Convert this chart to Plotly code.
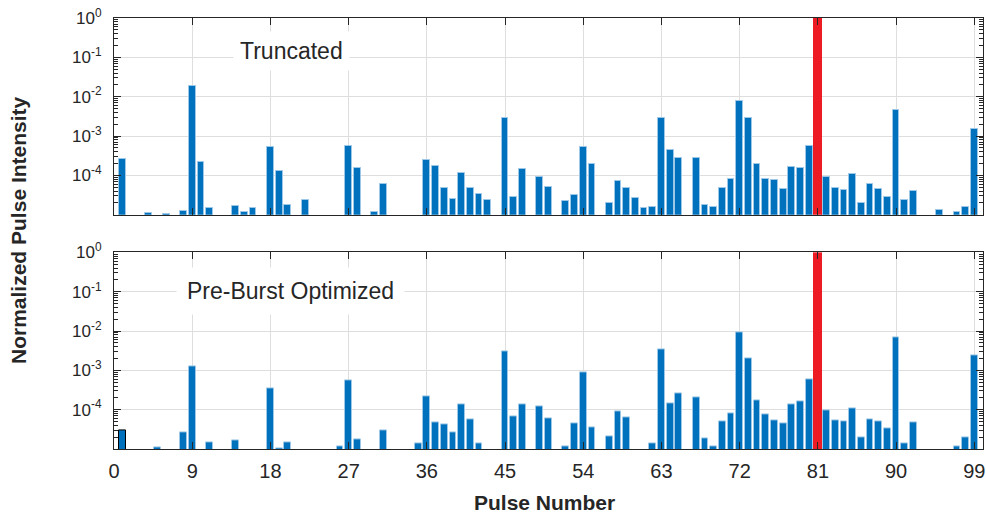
import plotly.graph_objects as go

pulses = list(range(1, 100))

truncated = [
    2.6e-4, 0, 0, 1.1e-5, 0, 1.05e-5, 0, 1.26e-5, 1.9e-2, 2.2e-4,
    1.47e-5, 0, 0, 1.65e-5, 1.17e-5, 1.47e-5, 0, 5.4e-4, 1.28e-4, 1.73e-5,
    0, 2.4e-5, 0, 0, 0, 0, 5.7e-4, 1.56e-4, 0, 1.2e-5,
    6.2e-5, 0, 0, 0, 0, 2.5e-4, 1.7e-4, 4.8e-5, 2.5e-5, 1.12e-4,
    4.7e-5, 3.3e-5, 2.3e-5, 0, 2.8e-3, 2.9e-5, 1.44e-4, 0, 9.3e-5, 5.2e-5,
    0, 2.2e-5, 3.1e-5, 5.4e-4, 1.9e-4, 0, 2.0e-5, 7.0e-5, 4.7e-5, 2.6e-5,
    1.5e-5, 1.6e-5, 2.8e-3, 4.5e-4, 2.8e-4, 0, 2.8e-4, 1.8e-5, 1.6e-5, 4.8e-5,
    8.3e-5, 7.8e-3, 2.9e-3, 1.9e-4, 8.3e-5, 7.7e-5, 4.6e-5, 1.65e-4, 1.5e-4, 5.6e-4,
    1.0, 8.9e-5, 4.7e-5, 4.3e-5, 1.1e-4, 1.95e-5, 5.9e-5, 4.4e-5, 2.9e-5, 4.5e-3,
    2.4e-5, 4.0e-5, 0, 0, 1.3e-5, 0, 1.2e-5, 1.55e-5, 1.55e-3,
]

optimized = [
    2.9e-5, 0, 0, 0, 1.08e-5, 0, 0, 2.6e-5, 1.26e-3, 0,
    1.45e-5, 0, 0, 1.66e-5, 0, 0, 0, 3.5e-4, 1.05e-5, 1.45e-5,
    0, 0, 0, 0, 0, 1.17e-5, 5.5e-4, 1.73e-5, 0, 0,
    2.9e-5, 0, 0, 0, 1.42e-5, 2.2e-4, 4.7e-5, 4.3e-5, 2.6e-5, 1.38e-4,
    5.8e-5, 1.38e-5, 0, 0, 3.0e-3, 6.6e-5, 1.38e-4, 0, 1.2e-4, 5.9e-5,
    0, 1.15e-5, 4.4e-5, 8.7e-4, 3.5e-5, 0, 2.1e-5, 8.9e-5, 6.3e-5, 0,
    0, 1.42e-5, 3.4e-3, 1.48e-4, 2.6e-4, 0, 2.1e-4, 1.9e-5, 1.15e-5, 5.1e-5,
    7.9e-5, 9.4e-3, 2.0e-3, 1.73e-4, 7.7e-5, 5.3e-5, 4.5e-5, 1.38e-4, 1.66e-4, 5.9e-4,
    1.0, 9.8e-5, 5.4e-5, 4.9e-5, 1.07e-4, 2.0e-5, 5.8e-5, 4.9e-5, 3.4e-5, 7.0e-3,
    1.38e-5, 4.7e-5, 0, 0, 0, 0, 1.15e-5, 1.95e-5, 2.45e-3,
]

highlight_pulse = 81
x_tickvals = [0, 9, 18, 27, 36, 45, 54, 63, 72, 81, 90, 99]
y_tickvals = [1e-4, 1e-3, 1e-2, 1e-1, 1e0]
y_ticktext = ["10<sup>-4</sup>", "10<sup>-3</sup>", "10<sup>-2</sup>", "10<sup>-1</sup>", "10<sup>0</sup>"]
panel_labels = ["Truncated", "Pre-Burst Optimized"]
x_title = "Pulse Number"
y_title = "Normalized Pulse Intensity"

BLUE = "#0072BD"
RED = "#ED1C24"
EDGE = "#9CC7E6"
INK = "#262626"
GRID = "#DEDEDE"
FONT = "Liberation Sans, Arial, sans-serif"

minor_vals = [m * 10.0 ** e for e in range(-5, 0) for m in range(2, 10)]

fig = go.Figure()

for i, vals in enumerate([truncated, optimized]):
    colors = [RED if p == highlight_pulse else BLUE for p in pulses]
    edges = [RED if p == highlight_pulse else EDGE for p in pulses]
    widths = [0.95 if p == highlight_pulse else 0.78 for p in pulses]
    if i == 1:
        edges[0] = "#000000"
    suffix = "" if i == 0 else "2"
    fig.add_trace(go.Bar(
        x=pulses, y=vals, width=widths,
        marker=dict(color=colors, line=dict(color=edges, width=1)),
        xaxis="x" + suffix, yaxis="y" + suffix, showlegend=False,
    ))

axis_common = dict(
    showline=True, linecolor=INK, linewidth=1, mirror="ticks",
    ticks="inside", tickcolor=INK, zeroline=False, automargin=False,
    showgrid=True, gridcolor=GRID, gridwidth=1,
)

xcommon = dict(axis_common, range=[0, 100], tickvals=x_tickvals, ticklen=7,
               tickfont=dict(family=FONT, size=20, color=INK))
ycommon = dict(axis_common, type="log", range=[-5, 0], tickvals=y_tickvals, ticktext=y_ticktext,
               ticklen=7, ticklabelstandoff=8, tickfont=dict(family=FONT, size=17, color=INK),
               minor=dict(ticks="inside", ticklen=4, tickcolor=INK, tickvals=minor_vals, showgrid=False))

fig.update_layout(
    width=986, height=514,
    margin=dict(l=114, r=3, t=18, b=65),
    paper_bgcolor="white", plot_bgcolor="white",
    bargap=0,
    xaxis=dict(xcommon, domain=[0, 1], anchor="y", showticklabels=False),
    yaxis=dict(ycommon, domain=[0.5436, 1], anchor="x"),
    xaxis2=dict(xcommon, domain=[0, 1], anchor="y2", ticklabelstandoff=4),
    yaxis2=dict(ycommon, domain=[0, 0.4561], anchor="x2"),
)

fig.add_annotation(x=20.4, y=-0.85, xref="x", yref="y", text=panel_labels[0], showarrow=False,
                   font=dict(family=FONT, size=23, color=INK),
                   bgcolor="white", borderpad=6)
fig.add_annotation(x=20.3, y=-0.99, xref="x2", yref="y2", text=panel_labels[1], showarrow=False,
                   font=dict(family=FONT, size=23, color=INK),
                   bgcolor="white", borderpad=10)
fig.add_annotation(x=(544 - 114) / 869, y=(449 - 502) / 431, xref="paper", yref="paper",
                   text="<b>" + x_title + "</b>", showarrow=False, yanchor="middle",
                   font=dict(family=FONT, size=21, color=INK))
fig.add_annotation(x=(18 - 114) / 869, y=(449 - 230) / 431, xref="paper", yref="paper",
                   text="<b>" + y_title + "</b>", showarrow=False, textangle=-90,
                   xanchor="center", yanchor="middle",
                   font=dict(family=FONT, size=21, color=INK))

fig.write_html("out.html", config={"displayModeBar": False},
               post_script="document.body.style.margin='0';document.body.style.overflow='hidden';")
